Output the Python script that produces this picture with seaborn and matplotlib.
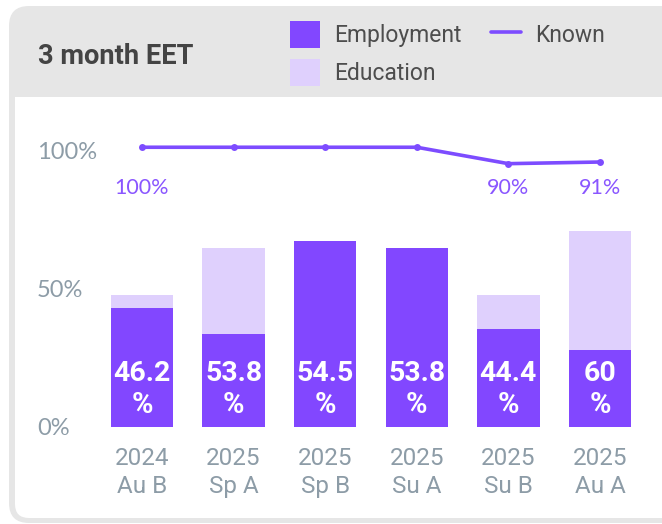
import numpy as np
import pandas as pd
import seaborn as sns
import matplotlib.pyplot as plt
from matplotlib.patches import FancyBboxPatch, Rectangle, Patch
from matplotlib.lines import Line2D
import matplotlib.transforms as mtransforms

# Data
periods = ["2024\nAu B", "2025\nSp A", "2025\nSp B", "2025\nSu A", "2025\nSu B", "2025\nAu A"]
employment = [43.1, 33.7, 67.4, 64.9, 35.5, 27.9]
education = [4.4, 31.2, 0.0, 0.0, 12.0, 43.1]
eet_labels = ["46.2", "53.8", "54.5", "53.8", "44.4", "60"]
known = [100, 100, 100, 100, 90, 91]

emp_col = "#8247ff"
edu_col = "#dfd0fd"
line_col = "#7d4cff"
grey_txt = "#8d9ca7"

sns.set_theme(style="white")
plt.rcParams['font.family'] = ['Lato', 'DejaVu Sans']

df = pd.DataFrame({"period": periods, "employment": employment, "education": education})
df["total"] = df["employment"] + df["education"]

fig = plt.figure(figsize=(6.62, 5.24), dpi=100)
fig.patch.set_facecolor("white")

# -------- Card background (pixel coordinates) --------
bg = fig.add_axes([0, 0, 1, 1], zorder=0)
bg.set_xlim(0, 662)
bg.set_ylim(524, 0)
bg.axis("off")
bg.add_patch(FancyBboxPatch((9, 6), 720, 517, boxstyle="round,pad=0,rounding_size=20",
                            fc="#e6e6e6", ec="none"))
bg.add_patch(Rectangle((15, 97), 720, 300, fc="white", ec="none"))
bg.add_patch(FancyBboxPatch((15, 200), 720, 318, boxstyle="round,pad=0,rounding_size=14",
                            fc="white", ec="none"))
bg.text(38, 63.5, "3 month EET", fontsize=19.6, fontweight="bold", color="#444444",
        family=["Roboto", "DejaVu Sans"], va="baseline", ha="left")

# -------- Main bar axes --------
ax = fig.add_axes([96.2 / 662, (524 - 426.5) / 524, 549.6 / 662, 275.8 / 524], zorder=2)
ax.patch.set_alpha(0)
sns.barplot(data=df, x="period", y="total", color=edu_col, width=0.68, saturation=1,
            linewidth=0, ax=ax)
sns.barplot(data=df, x="period", y="employment", color=emp_col, width=0.68, saturation=1,
            linewidth=0, ax=ax)
ax.set_xlim(-0.5, 5.5)
ax.set_ylim(0, 100)
ax.set_yticks([0, 50, 100])
ax.set_yticklabels(["0%", "50%", "100%"])
ax.set_xlabel("")
ax.set_ylabel("")
for s in ax.spines.values():
    s.set_visible(False)
ax.tick_params(axis="y", length=0, pad=42.6, labelsize=17, labelcolor=grey_txt)
ax.tick_params(axis="x", length=0, pad=15, labelsize=17.5, labelcolor=grey_txt)
for t in ax.get_yticklabels():
    t.set_horizontalalignment("left")
for t in ax.get_xticklabels():
    t.set_family(["Roboto", "DejaVu Sans"])
    t.set_linespacing(1.25)

for i, lab in enumerate(eet_labels):
    ax.text(i, 16.5, lab, ha="center", va="baseline", color="white", fontsize=20.5,
            fontweight="bold", family=["Roboto", "DejaVu Sans"])
    ax.text(i, 4.8, "%", ha="center", va="baseline", color="white", fontsize=21,
            fontweight="bold", family=["Roboto", "DejaVu Sans"])

# -------- Known line (own scale) --------
ax2 = ax.twinx()
ax2.patch.set_alpha(0)
xpos = np.arange(len(periods))
sns.lineplot(x=xpos, y=known, ax=ax2, color=line_col, linewidth=2.6, marker="o",
             markersize=5, markeredgewidth=0, clip_on=False)
ax2.set_ylim(-70.2, 97.9)
ax2.set_yticks([])
for s in ax2.spines.values():
    s.set_visible(False)
trans = mtransforms.blended_transform_factory(ax2.transData, ax2.transAxes)
prev = None
for i, k in enumerate(known):
    if k != prev:
        ax2.text(i, 0.843, f"{k}%", transform=trans, ha="center", va="baseline",
                 color="#8a56ff", fontsize=15.5)
    prev = k

# -------- Legend --------
handles = [Patch(fc=emp_col, ec="none"), Patch(fc=edu_col, ec="none"),
           Line2D([], [], color=line_col, linewidth=2.6)]
fig.legend(handles, ["Employment", "Education", "Known"], ncol=2, frameon=False,
           loc="upper left", bbox_to_anchor=(290 / 662, 1 - 21.5 / 524),
           borderpad=0, borderaxespad=0, handlelength=1.31, handleheight=1.4,
           handletextpad=0.61, labelspacing=0.5, columnspacing=1.31,
           prop={"family": ["Roboto", "DejaVu Sans"], "size": 16.5}, labelcolor="#4d4d4d")

fig.savefig("out.png", dpi=100)
